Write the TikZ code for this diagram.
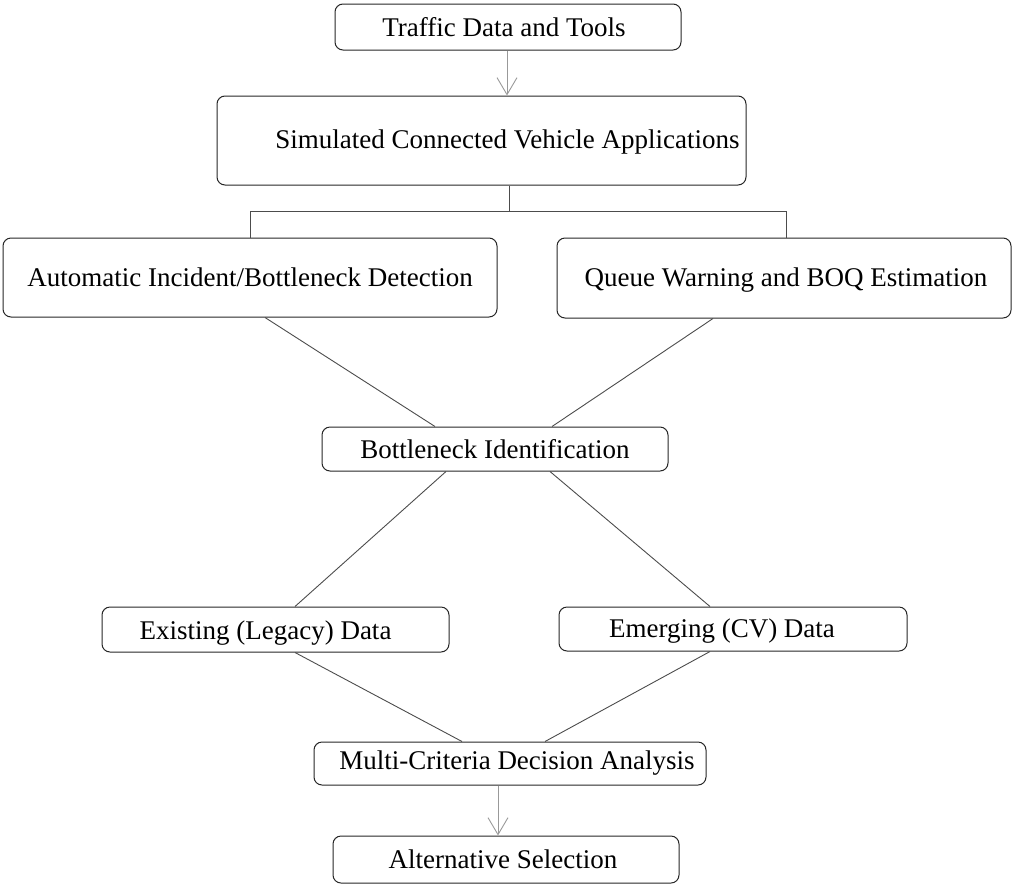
\documentclass[tikz,border=0pt]{standalone}
\usepackage{fontspec}
\setmainfont{Liberation Serif}
\usetikzlibrary{arrows.meta}
\begin{document}
\begin{tikzpicture}[x=1pt,y=-1pt,
  box/.style={draw=black!85, line width=1pt, rounded corners=8pt, inner sep=0pt,
    font=\fontsize{27}{31}\selectfont, text=black},
  link/.style={draw=black!70, line width=0.9pt},
  flow/.style={draw=black!40, line width=0.9pt,
    -{Straight Barb[length=17pt,width=20pt,line width=0.9pt]}}]
\useasboundingbox (0,0) rectangle (1012,884);
% text shift inside a box: positive moves the label right
\newcommand{\shifted}[2]{\ifdim#1pt<0pt\hspace*{0pt}#2\hspace*{\dimexpr-2\dimexpr#1pt\relax\relax}\else\hspace*{\dimexpr2\dimexpr#1pt\relax\relax}#2\fi}
% lower a label without changing the box size
\newcommand{\lowered}[2]{\raisebox{-#1pt}[\height][\depth]{#2}}
\node[box, minimum width=346, minimum height=46] (T) at (508,27) {\shifted{-4}{Traffic Data and Tools}};
\node[box, minimum width=529, minimum height=89] (S) at (481.5,140.5) {\shifted{26}{\lowered{2}{Simulated Connected Vehicle Applications}}};
\node[box, minimum width=494, minimum height=79] (A) at (250,277.5) {Automatic Incident/Bottleneck Detection};
\node[box, minimum width=454, minimum height=80] (Q) at (784,278) {\shifted{2}{\lowered{2}{Queue Warning and BOQ Estimation}}};
\node[box, minimum width=346, minimum height=44] (B) at (495,449) {Bottleneck Identification};
\node[box, minimum width=347, minimum height=45] (E) at (275.5,629.5) {\shifted{-10}{\lowered{4}{Existing (Legacy) Data}}};
\node[box, minimum width=348, minimum height=44] (V) at (733,629) {\shifted{-11}{\lowered{2}{Emerging (CV) Data}}};
\node[box, minimum width=392, minimum height=43] (M) at (510,763.5) {\shifted{7}{Multi-Criteria Decision Analysis}};
\node[box, minimum width=346, minimum height=47] (L) at (506,859.5) {\shifted{-3}{Alternative Selection}};
% branching connector under the applications box
\coordinate (split) at (509,211.5);
% arrows
\draw[flow] ([xshift=-1]T.south) -- ([xshift=-1]T.south |- S.north);
\draw[flow] ([xshift=-12]M.south) -- ([xshift=-12]M.south |- L.north);
% tree links
\draw[link] (split |- S.south) -- (split);
\draw[link] (A.north) |- (split) -| ([xshift=2]Q.north);
\draw[link] ([xshift=15]A.south) -- ([xshift=-60]B.north);
\draw[link] ([xshift=-71]Q.south) -- ([xshift=57]B.north);
\draw[link] ([xshift=-49]B.south) -- ([xshift=19.5]E.north);
\draw[link] ([xshift=55]B.south) -- ([xshift=-23]V.north);
\draw[link] ([xshift=19.5]E.south) -- ([xshift=-48]M.north);
\draw[link] ([xshift=-23]V.south) -- ([xshift=35]M.north);
\end{tikzpicture}
\end{document}
